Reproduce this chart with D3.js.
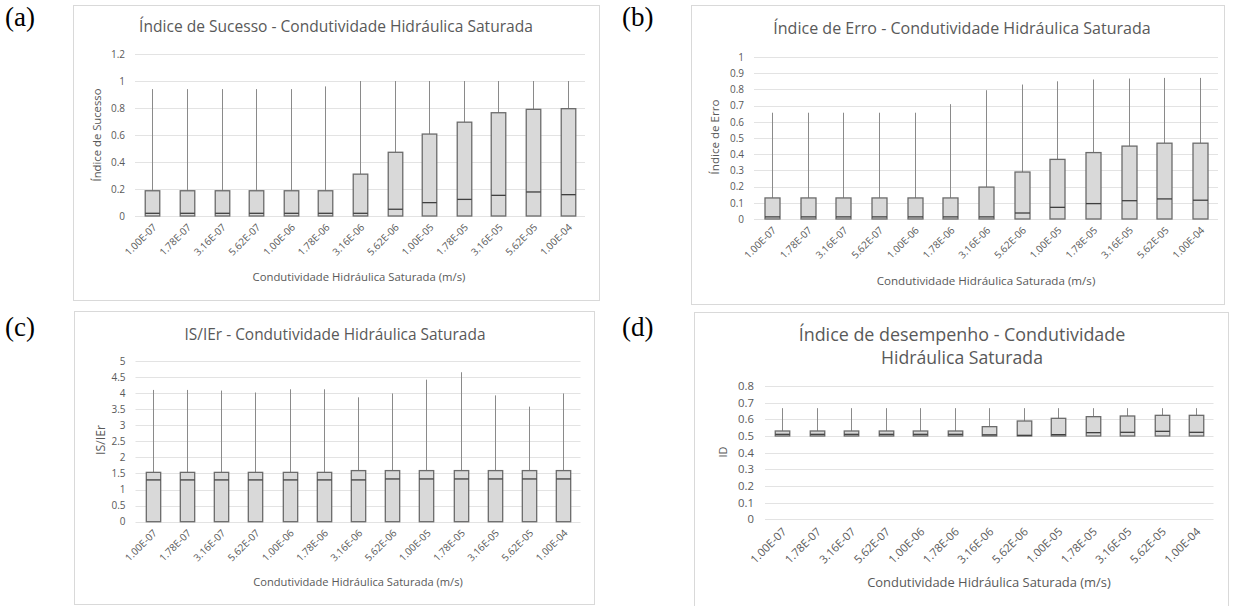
<!DOCTYPE html>
<html><head><meta charset="utf-8">
<script src="https://cdn.jsdelivr.net/npm/d3@7"></script>
<style>body{margin:0;background:#fff} svg{display:block}</style>
</head><body>
<svg id="c" width="1234" height="606"></svg>
<script>
// ---------- data ----------
const categories = ["1.00E-07","1.78E-07","3.16E-07","5.62E-07","1.00E-06","1.78E-06","3.16E-06","5.62E-06","1.00E-05","1.78E-05","3.16E-05","5.62E-05","1.00E-04"];

// (a) Índice de Sucesso
const isMax    = [0.94,0.94,0.94,0.94,0.94,0.96,1.0,1.0,1.0,1.0,1.0,1.0,1.0];
const isQ3     = [0.187,0.187,0.187,0.187,0.187,0.187,0.31,0.472,0.607,0.695,0.765,0.79,0.795];
const isMedian = [0.02,0.02,0.02,0.02,0.02,0.02,0.02,0.05,0.099,0.123,0.153,0.178,0.158];
const isQ1     = [0,0,0,0,0,0,0,0,0,0,0,0,0];
const isMin    = [0,0,0,0,0,0,0,0,0,0,0,0,0];
const isTicks  = [0,0.2,0.4,0.6,0.8,1,1.2];

// (b) Índice de Erro
const ieMax    = [0.656,0.656,0.656,0.656,0.656,0.709,0.795,0.83,0.85,0.861,0.867,0.871,0.871];
const ieQ3     = [0.13,0.13,0.13,0.13,0.13,0.13,0.197,0.29,0.368,0.41,0.45,0.468,0.468];
const ieMedian = [0.013,0.013,0.013,0.013,0.013,0.013,0.013,0.037,0.072,0.095,0.113,0.124,0.116];
const ieQ1     = [0,0,0,0,0,0,0,0,0,0,0,0,0];
const ieMin    = [0,0,0,0,0,0,0,0,0,0,0,0,0];
const ieTicks  = [0,0.1,0.2,0.3,0.4,0.5,0.6,0.7,0.8,0.9,1];

// (c) IS/IEr
const rMax    = [4.10,4.10,4.08,4.02,4.12,4.12,3.87,3.99,4.42,4.65,3.93,3.58,3.99];
const rQ3     = [1.535,1.535,1.535,1.535,1.535,1.535,1.59,1.59,1.59,1.59,1.59,1.59,1.59];
const rMedian = [1.30,1.30,1.30,1.30,1.30,1.30,1.30,1.33,1.33,1.33,1.33,1.33,1.33];
const rQ1     = [0,0,0,0,0,0,0,0,0,0,0,0,0];
const rMin    = [0,0,0,0,0,0,0,0,0,0,0,0,0];
const rTicks  = [0,0.5,1,1.5,2,2.5,3,3.5,4,4.5,5];

// (d) Índice de desempenho
const idMax    = [0.667,0.667,0.667,0.667,0.667,0.667,0.667,0.667,0.667,0.667,0.667,0.667,0.667];
const idQ3     = [0.53,0.53,0.53,0.53,0.53,0.53,0.556,0.59,0.606,0.616,0.62,0.624,0.624];
const idMedian = [0.51,0.51,0.51,0.51,0.51,0.51,0.507,0.504,0.508,0.52,0.522,0.528,0.522];
const idQ1     = [0.5,0.5,0.5,0.5,0.5,0.5,0.5,0.5,0.5,0.5,0.5,0.5,0.5];
const idMin    = [0.5,0.5,0.5,0.5,0.5,0.5,0.5,0.5,0.5,0.5,0.5,0.5,0.5];
const idTicks  = [0,0.1,0.2,0.3,0.4,0.5,0.6,0.7,0.8];

const fmt = d => String(+d.toFixed(2));

// ---------- drawing ----------
const svg = d3.select("#c");
const FONT = "Open Sans, sans-serif";
const TXT = "#595959";

function fit(sel, target) {
  const base = 12;
  sel.attr("font-size", base);
  const len = sel.node().getComputedTextLength();
  sel.attr("font-size", base * target / len);
  return sel;
}

function panel(cfg) {
  const g = svg.append("g");
  g.append("rect").attr("x", cfg.frame[0] + 0.5).attr("y", cfg.frame[1] + 0.5)
    .attr("width", cfg.frame[2]).attr("height", cfg.frame[3])
    .attr("fill", "#fff").attr("stroke", "#d9d9d9");

  const x = d3.scaleBand().domain(categories).range([cfg.x0, cfg.x1]);
  const y = d3.scaleLinear().domain([0, d3.max(cfg.ticks)]).range([cfg.yZero, cfg.yTop]);

  g.append("g").selectAll("line").data(cfg.ticks).join("line")
    .attr("x1", cfg.x0).attr("x2", cfg.x1)
    .attr("y1", d => Math.round(y(d)) + 0.5).attr("y2", d => Math.round(y(d)) + 0.5)
    .attr("stroke", "#e3e3e3").attr("stroke-width", 1);

  const ya = d3.axisLeft(y).tickValues(cfg.ticks).tickFormat(fmt).tickSize(0).tickPadding(cfg.ypad);
  const yg = g.append("g").attr("transform", `translate(${cfg.x0},0)`).call(ya);
  yg.select(".domain").remove();
  yg.selectAll("text").attr("fill", TXT).attr("font-family", FONT).attr("font-size", cfg.tickFont);

  const xa = d3.axisBottom(x).tickSize(0).tickPadding(0);
  const xg = g.append("g").attr("transform", `translate(0,${cfg.yZero})`).call(xa);
  xg.select(".domain").remove();
  xg.selectAll("text")
    .attr("fill", TXT).attr("font-family", FONT).attr("font-size", cfg.tickFont)
    .attr("text-anchor", "end").attr("dy", null).attr("y", 0)
    .attr("transform", `translate(${cfg.xlDx},${cfg.xlDy}) rotate(-45)`);

  const rows = categories.map((c, i) => ({c, max: cfg.max[i], q3: cfg.q3[i], med: cfg.med[i], q1: cfg.q1[i], min: cfg.min[i]}));
  const bw = x.bandwidth() * 0.42;
  const bg = g.append("g");
  const cx = d => Math.round(x(d.c) + x.bandwidth() / 2) + 0.5;
  bg.selectAll("line.wt").data(rows).join("line").attr("class", "wt")
    .attr("x1", cx).attr("x2", cx).attr("y1", d => y(d.q3)).attr("y2", d => y(d.max))
    .attr("stroke", "#8a8a8a").attr("stroke-width", 1);
  bg.selectAll("line.wb").data(rows).join("line").attr("class", "wb")
    .attr("x1", cx).attr("x2", cx).attr("y1", d => y(d.q1)).attr("y2", d => y(d.min))
    .attr("stroke", "#8a8a8a").attr("stroke-width", 1);
  bg.selectAll("rect").data(rows).join("rect")
    .attr("x", d => cx(d) - bw / 2).attr("width", bw)
    .attr("y", d => y(d.q3)).attr("height", d => y(d.q1) - y(d.q3))
    .attr("fill", "#d9d9d9").attr("stroke", "#6b6b6b").attr("stroke-width", 1.3);
  bg.selectAll("line.md").data(rows).join("line").attr("class", "md")
    .attr("x1", d => cx(d) - bw / 2).attr("x2", d => cx(d) + bw / 2)
    .attr("y1", d => y(d.med)).attr("y2", d => y(d.med))
    .attr("stroke", "#404040").attr("stroke-width", 1.3);

  cfg.title.forEach((t, i) => {
    const tt = g.append("text").text(t).attr("x", cfg.titleX).attr("y", cfg.titleY[i])
      .attr("text-anchor", "middle").attr("dy", "0.35em")
      .attr("font-family", FONT).attr("fill", TXT);
    fit(tt, cfg.titleW[i]);
  });
  const xt = g.append("text").text("Condutividade Hidráulica Saturada (m/s)")
    .attr("x", cfg.xtX).attr("y", cfg.xtY).attr("text-anchor", "middle").attr("dy", "0.35em")
    .attr("font-family", FONT).attr("fill", TXT);
  fit(xt, cfg.xtW);
  const yt = g.append("text").text(cfg.ytitle)
    .attr("transform", `translate(${cfg.ytX},${cfg.ytY}) rotate(-90)`)
    .attr("text-anchor", "middle").attr("dy", "0.35em")
    .attr("font-family", FONT).attr("fill", TXT);
  fit(yt, cfg.ytW);

  svg.append("text").text(cfg.letter).attr("x", cfg.letterX).attr("y", cfg.letterY)
    .attr("font-family", "Liberation Serif, Times New Roman, serif").attr("font-size", 27).attr("fill", "#000");
}

panel({
  frame: [73, 5, 526, 295], x0: 135, x1: 585, yZero: 216, yTop: 54, ticks: isTicks,
  max: isMax, q3: isQ3, med: isMedian, q1: isQ1, min: isMin,
  tickFont: 10, ypad: 10, xlDx: 5, xlDy: 12,
  title: ["Índice de Sucesso - Condutividade Hidráulica Saturada"], titleX: 336, titleY: [27], titleW: [394],
  xtX: 359, xtY: 277, xtW: 213, ytitle: "Índice de Sucesso", ytX: 97, ytY: 135, ytW: 93,
  letter: "(a)", letterX: 5, letterY: 26
});
panel({
  frame: [691, 5, 533, 299], x0: 754, x1: 1218, yZero: 219, yTop: 57, ticks: ieTicks,
  max: ieMax, q3: ieQ3, med: ieMedian, q1: ieQ1, min: ieMin,
  tickFont: 10, ypad: 10, xlDx: 5, xlDy: 12,
  title: ["Índice de Erro - Condutividade Hidráulica Saturada"], titleX: 962, titleY: [28], titleW: [378],
  xtX: 986, xtY: 281, xtW: 219, ytitle: "Índice de Erro", ytX: 715, ytY: 137, ytW: 75,
  letter: "(b)", letterX: 622, letterY: 26
});
panel({
  frame: [74, 311, 520, 293], x0: 135.5, x1: 580.5, yZero: 521.7, yTop: 361, ticks: rTicks,
  max: rMax, q3: rQ3, med: rMedian, q1: rQ1, min: rMin,
  tickFont: 10, ypad: 10, xlDx: 5, xlDy: 12,
  title: ["IS/IEr - Condutividade Hidráulica Saturada"], titleX: 335, titleY: [335], titleW: [301],
  xtX: 358, xtY: 582, xtW: 210, ytitle: "IS/IEr", ytX: 101, ytY: 440, ytW: 30,
  letter: "(c)", letterX: 5, letterY: 336
});
panel({
  frame: [694, 312, 534, 300], x0: 765, x1: 1213.5, yZero: 519.3, yTop: 386, ticks: idTicks,
  max: idMax, q3: idQ3, med: idMedian, q1: idQ1, min: idMin,
  tickFont: 11.3, ypad: 11, xlDx: 5, xlDy: 13,
  title: ["Índice de desempenho - Condutividade", "Hidráulica Saturada"], titleX: 962, titleY: [335, 358], titleW: [327, 162],
  xtX: 989, xtY: 582, xtW: 244, ytitle: "ID", ytX: 723, ytY: 452, ytW: 11,
  letter: "(d)", letterX: 622, letterY: 336
});
</script>
</body></html>
